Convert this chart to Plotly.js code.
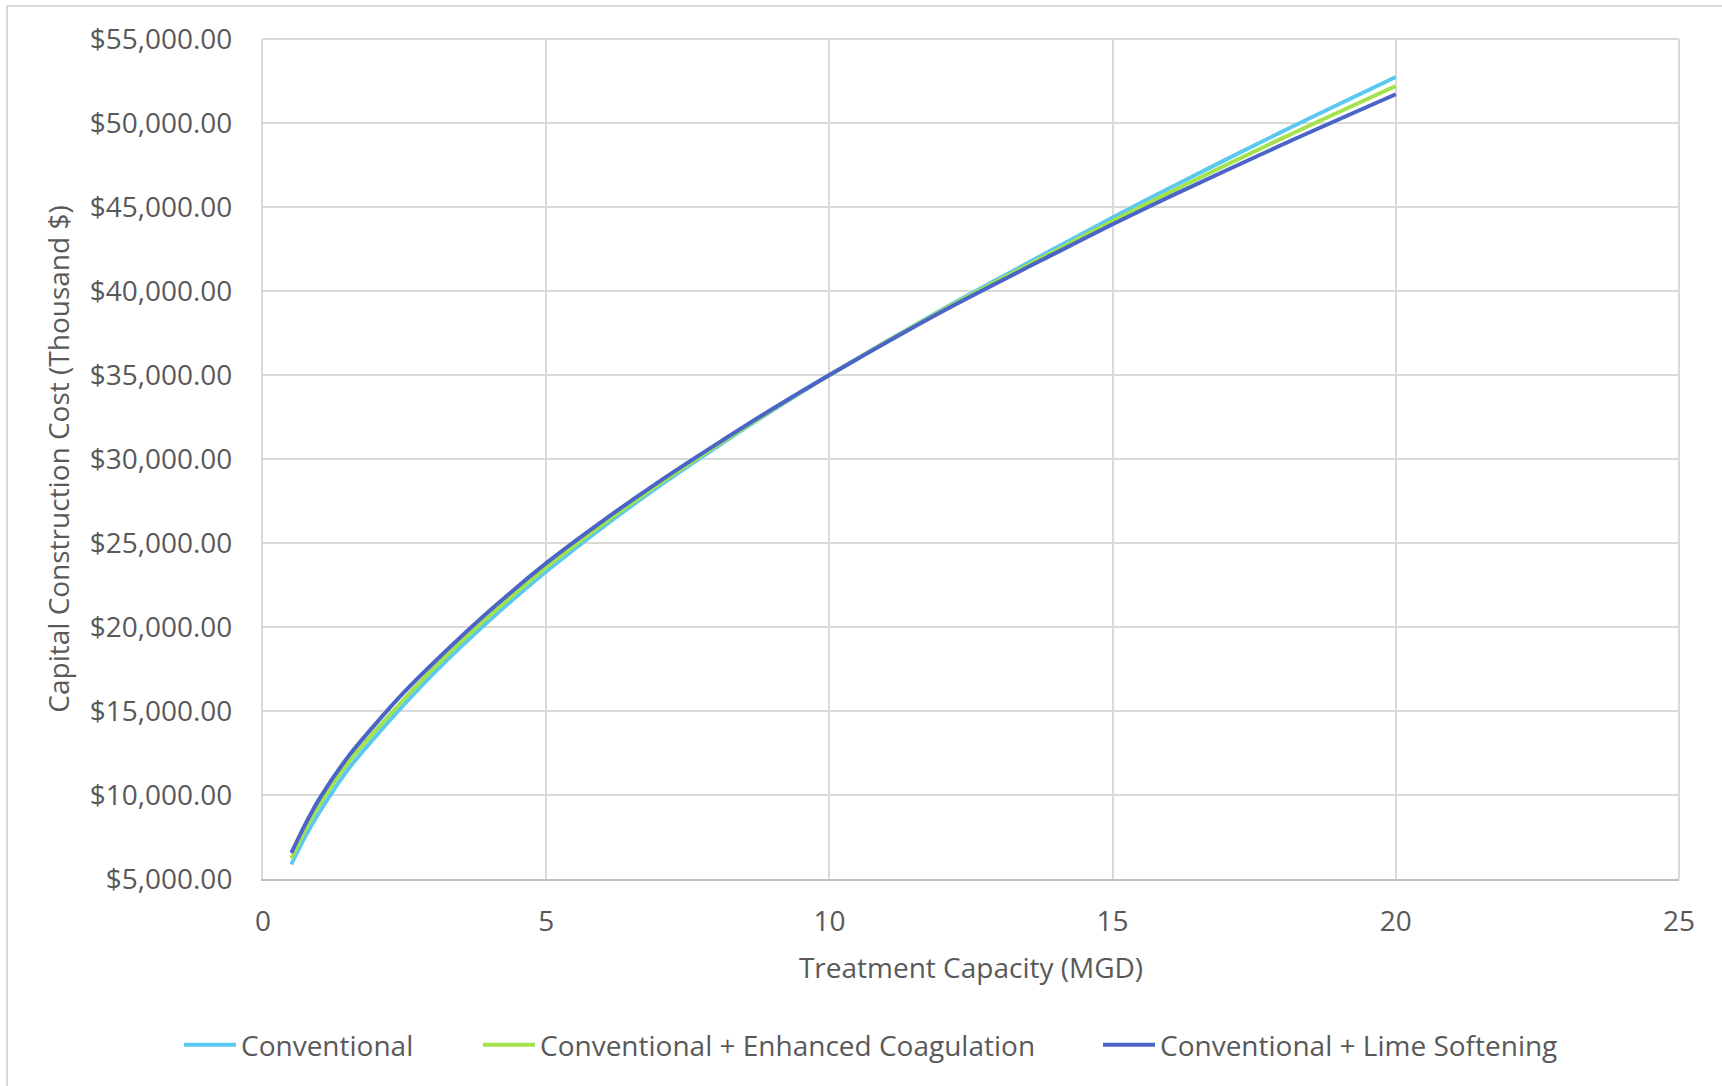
<!DOCTYPE html>
<html>
<head>
<meta charset="utf-8">
<script src="https://cdn.plot.ly/plotly-3.0.1.min.js"></script>
<style>
  html, body { margin: 0; padding: 0; background: #ffffff; }
  #frame { position: absolute; left: 6px; top: 5px; width: 1740px; height: 1100px; border: 2px solid #D9D9D9; box-sizing: border-box; }
  #chart { position: absolute; left: 0; top: 0; width: 1722px; height: 1086px; }
</style>
</head>
<body>
<div id="frame"></div>
<div id="chart"></div>
<script>
// Treatment capacity (MGD)
const capacity = [0.5, 0.75, 1, 1.5, 2, 2.5, 3, 4, 5, 6, 7, 8, 9, 10, 12, 14, 15, 16, 18, 20];

// Capital construction cost (thousand $)
const conventional = [5870, 7550, 9000, 11520, 13530, 15420, 17200, 20400, 23300, 25950, 28400, 30700, 32900, 35000, 38920, 42570, 44370, 46120, 49500, 52741];
const enhancedCoagulation = [6230, 7950, 9450, 11920, 13880, 15730, 17500, 20670, 23550, 26130, 28530, 30780, 32940, 35000, 38860, 42410, 44170, 45860, 49100, 52205];
const limeSoftening = [6550, 8280, 9800, 12270, 14280, 16150, 17830, 20960, 23800, 26320, 28670, 30870, 32990, 35000, 38800, 42270, 43970, 45600, 48720, 51710];

const seriesNames = ["Conventional", "Conventional + Enhanced Coagulation", "Conventional + Lime Softening"];
const seriesColors = ["#5BC8F0", "#A2E34B", "#4A64C8"];

const xTitle = "Treatment Capacity (MGD)";
const yTitle = "Capital Construction Cost (Thousand $)";

const textColor = "#595959";
const fontFamily = "'Open Sans', 'Noto Sans', sans-serif";
const fontSize = 28;

const seriesValues = [conventional, enhancedCoagulation, limeSoftening];
const legendIds = ["legend", "legend2", "legend3"];

const traces = seriesValues.map((vals, i) => ({
  type: "scatter",
  mode: "lines",
  x: capacity,
  y: vals,
  name: seriesNames[i],
  legend: legendIds[i],
  line: { color: seriesColors[i], width: 4, shape: "spline", smoothing: 0.8 },
  hoverinfo: "x+y+name"
}));

function legendAt(xpx) {
  return {
    xref: "container", yref: "container",
    x: xpx / 1722, y: 1 - 1045 / 1086,
    xanchor: "left", yanchor: "middle",
    orientation: "h",
    bgcolor: "rgba(0,0,0,0)",
    borderwidth: 0,
    itemwidth: 52,
    font: { family: fontFamily, size: fontSize, color: textColor },
    tracegroupgap: 0
  };
}

const layout = {
  width: 1722,
  height: 1086,
  paper_bgcolor: "rgba(0,0,0,0)",
  plot_bgcolor: "#ffffff",
  margin: { l: 263, r: 43, t: 39, b: 207, pad: 0 },
  font: { family: fontFamily, size: fontSize, color: textColor },
  showlegend: true,
  legend: legendAt(179),
  legend2: legendAt(478),
  legend3: legendAt(1098),
  xaxis: {
    range: [0, 25],
    dtick: 5,
    tick0: 0,
    showgrid: true,
    gridcolor: "#D9D9D9",
    gridwidth: 2,
    zeroline: false,
    showline: true,
    linecolor: "#BFBFBF",
    linewidth: 2,
    ticks: "",
    ticklabelstandoff: 16,
    tickfont: { family: fontFamily, size: fontSize, color: textColor },
    title: { text: xTitle, font: { family: fontFamily, size: fontSize, color: textColor }, standoff: 21 }
  },
  yaxis: {
    range: [5000, 55000],
    dtick: 5000,
    tick0: 5000,
    tickprefix: "$",
    tickformat: ",.2f",
    showgrid: true,
    gridcolor: "#D9D9D9",
    gridwidth: 2,
    zeroline: false,
    showline: true,
    linecolor: "#D9D9D9",
    linewidth: 2,
    ticks: "",
    ticklabelstandoff: 23,
    tickfont: { family: fontFamily, size: fontSize, color: textColor },
    title: { text: yTitle, font: { family: fontFamily, size: fontSize, color: textColor }, standoff: 12 }
  },
  shapes: [
    { type: "line", xref: "paper", yref: "paper", x0: 1, x1: 1, y0: 0, y1: 1, line: { color: "#D9D9D9", width: 2 } },
    { type: "line", xref: "paper", yref: "paper", x0: 0, x1: 1, y0: 1, y1: 1, line: { color: "#D9D9D9", width: 2 } }
  ]
};

Plotly.newPlot("chart", traces, layout, { displayModeBar: false, responsive: false });
</script>
</body>
</html>
